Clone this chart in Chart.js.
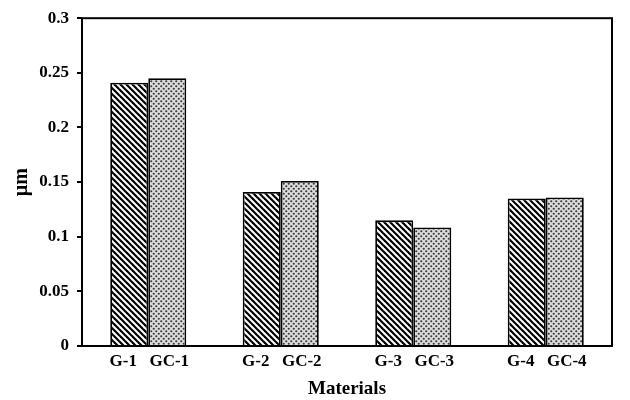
<!DOCTYPE html>
<html>
<head>
<meta charset="utf-8">
<script src="https://cdn.jsdelivr.net/npm/chart.js@4.4.0/dist/chart.umd.min.js"></script>
<style>
  html, body { margin: 0; padding: 0; background: #fff; }
  #wrap { width: 630px; height: 400px; }
</style>
</head>
<body>
<div id="wrap"><canvas id="myChart"></canvas></div>
<script>
var groups = ['1', '2', '3', '4'];
var gLabels = ['G-1', 'G-2', 'G-3', 'G-4'];
var gcLabels = ['GC-1', 'GC-2', 'GC-3', 'GC-4'];
var gValues = [0.241, 0.141, 0.115, 0.135];
var gcValues = [0.245, 0.151, 0.1085, 0.136];
var yTicks = [0, 0.05, 0.1, 0.15, 0.2, 0.25, 0.3];

var serif = '"Liberation Serif", "Times New Roman", serif';

function stripePattern() {
    var c = document.createElement('canvas');
    c.width = 6; c.height = 6;
    var g = c.getContext('2d');
    g.fillStyle = '#fff';
    g.fillRect(0, 0, 6, 6);
    g.strokeStyle = '#000';
    g.lineWidth = 2.2;
    [-6, 0, 6].forEach(function(o) {
        g.beginPath();
        g.moveTo(o - 1, -1);
        g.lineTo(o + 7, 7);
        g.stroke();
    });
    return g.createPattern(c, 'repeat');
}

function dotPattern() {
    var c = document.createElement('canvas');
    c.width = 5; c.height = 5;
    var g = c.getContext('2d');
    g.fillStyle = '#dcdcdc';
    g.fillRect(0, 0, 5, 5);
    g.fillStyle = '#3a3a3a';
    [[1.25, 1.25], [3.75, 3.75]].forEach(function(p) {
        g.beginPath(); g.arc(p[0], p[1], 1.1, 0, Math.PI * 2); g.fill();
    });
    return g.createPattern(c, 'repeat');
}

// frame round the plot and a label under each bar
var framePlugin = {
    id: 'frame',
    afterDatasetsDraw: function(chart) {
        var a = chart.chartArea, c = chart.ctx;
        c.save();
        c.strokeStyle = '#000';
        c.lineWidth = 2;
        c.strokeRect(a.left, a.top, a.right - a.left, a.bottom - a.top);
        c.fillStyle = '#000';
        c.font = 'bold 17px ' + serif;
        c.textAlign = 'center';
        c.textBaseline = 'top';
        var shift = [-6, 2];
        [gLabels, gcLabels].forEach(function(labels, d) {
            chart.getDatasetMeta(d).data.forEach(function(bar, i) {
                c.fillText(labels[i], bar.x + shift[d], a.bottom + 7);
            });
        });
        c.restore();
    }
};

var ctx = document.getElementById('myChart');
var myChart = new Chart(ctx, {
    type: 'bar',
    data: {
        labels: groups,
        datasets: [{
            label: 'G',
            data: gValues,
            backgroundColor: stripePattern(),
            borderColor: '#000',
            borderWidth: 1.8
        }, {
            label: 'GC',
            data: gcValues,
            backgroundColor: dotPattern(),
            borderColor: '#000',
            borderWidth: 1.8
        }]
    },
    options: {
        responsive: true,
        maintainAspectRatio: false,
        animation: false,
        layout: { padding: { left: 0, right: 18, top: 18, bottom: 0 } },
        datasets: { bar: { barPercentage: 1, categoryPercentage: 0.574 } },
        plugins: { legend: { display: false }, tooltip: { enabled: false } },
        scales: {
            x: {
                grid: { display: false },
                border: { display: false },
                ticks: { color: 'rgba(0,0,0,0)', font: { size: 17, family: serif, weight: 'bold' }, padding: 6 },
                title: {
                    display: true,
                    text: 'Materials',
                    color: '#000',
                    font: { size: 19, family: serif, weight: 'bold' },
                    padding: { top: 2, bottom: 0 }
                },
                afterFit: function(scale) { scale.height = 54; }
            },
            y: {
                min: 0,
                max: 0.3,
                afterBuildTicks: function(scale) {
                    scale.ticks = yTicks.map(function(v) { return { value: v }; });
                },
                grid: { display: true, drawOnChartArea: false, tickLength: 5, color: '#000', lineWidth: 2 },
                border: { display: false },
                ticks: {
                    color: '#000',
                    padding: 8,
                    font: { size: 17, family: serif, weight: 'bold' },
                    callback: function(v) { return String(v); }
                },
                title: {
                    display: true,
                    text: 'µm',
                    color: '#000',
                    font: { size: 20, family: serif, weight: 'bold' },
                    padding: { top: 10, bottom: 4 }
                },
                afterFit: function(scale) { scale.width = 82; }
            }
        }
    },
    plugins: [framePlugin]
});
</script>
</body>
</html>
